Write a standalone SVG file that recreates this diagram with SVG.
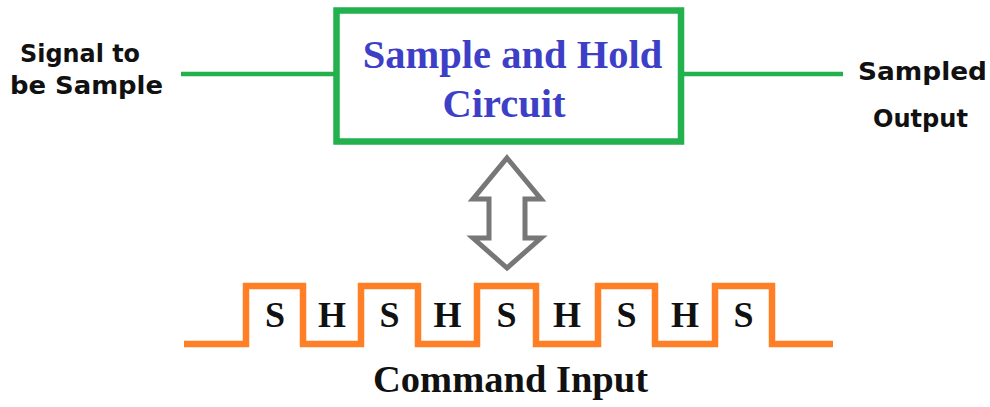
<svg xmlns="http://www.w3.org/2000/svg" width="990" height="407" viewBox="0 0 990 407">
  <style>
    .lbl { font-family: "DejaVu Sans", "Liberation Sans", sans-serif; font-weight: bold; font-size: 25.5px; fill: #111; }
    .title { font-family: "Liberation Serif", serif; font-weight: bold; font-size: 40.5px; fill: #3d40c6; }
    .sh { font-family: "Liberation Serif", serif; font-weight: bold; font-size: 36px; fill: #111; text-anchor: middle; }
    .cmd { font-family: "Liberation Serif", serif; font-weight: bold; font-size: 38.5px; fill: #111; text-anchor: middle; }
    .wire { stroke: #22b14c; stroke-width: 4.5; fill: none; }
  </style>
  <rect width="990" height="407" fill="#ffffff"/>

  <g id="connectors">
    <line class="wire" x1="181" y1="74" x2="337" y2="74"/>
    <line class="wire" x1="680" y1="74" x2="843" y2="74"/>
    <polygon id="bidir-arrow" points="507,158 541,199 525,199 525,238 541,238 507,268 473,238 489,238 489,199 473,199" fill="none" stroke="#777777" stroke-width="5" stroke-linejoin="miter"/>
  </g>

  <g id="input-label">
    <text class="lbl" x="20" y="62" textLength="120" lengthAdjust="spacingAndGlyphs">Signal to</text>
    <text class="lbl" x="10" y="94" textLength="153" lengthAdjust="spacingAndGlyphs">be Sample</text>
  </g>

  <g id="sample-hold-circuit">
    <rect x="336.5" y="10.5" width="344.5" height="131" fill="#ffffff" stroke="#22b14c" stroke-width="6.5"/>
    <text class="title" x="512.5" y="68" text-anchor="middle">Sample and Hold</text>
    <text class="title" x="504" y="117" text-anchor="middle">Circuit</text>
  </g>

  <g id="output-label">
    <text class="lbl" x="858" y="80" textLength="129" lengthAdjust="spacingAndGlyphs">Sampled</text>
    <text class="lbl" x="873" y="127" textLength="95" lengthAdjust="spacingAndGlyphs">Output</text>
  </g>

  <g id="command-input">
    <polyline points="184,344 246,344 246,286 303,286 303,344 361,344 361,286 418,286 418,344 477,344 477,286 536,286 536,344 598,344 598,286 655,286 655,344 715,344 715,286 772,286 772,344 833,344" fill="none" stroke="#ff7f27" stroke-width="6.5" stroke-linejoin="miter"/>
    <text class="sh" x="275" y="327">S</text>
    <text class="sh" x="332" y="327">H</text>
    <text class="sh" x="389.5" y="327">S</text>
    <text class="sh" x="447.5" y="327">H</text>
    <text class="sh" x="506.5" y="327">S</text>
    <text class="sh" x="567" y="327">H</text>
    <text class="sh" x="626.5" y="327">S</text>
    <text class="sh" x="685" y="327">H</text>
    <text class="sh" x="743.5" y="327">S</text>
    <text class="cmd" x="510.5" y="392">Command Input</text>
  </g>
</svg>
